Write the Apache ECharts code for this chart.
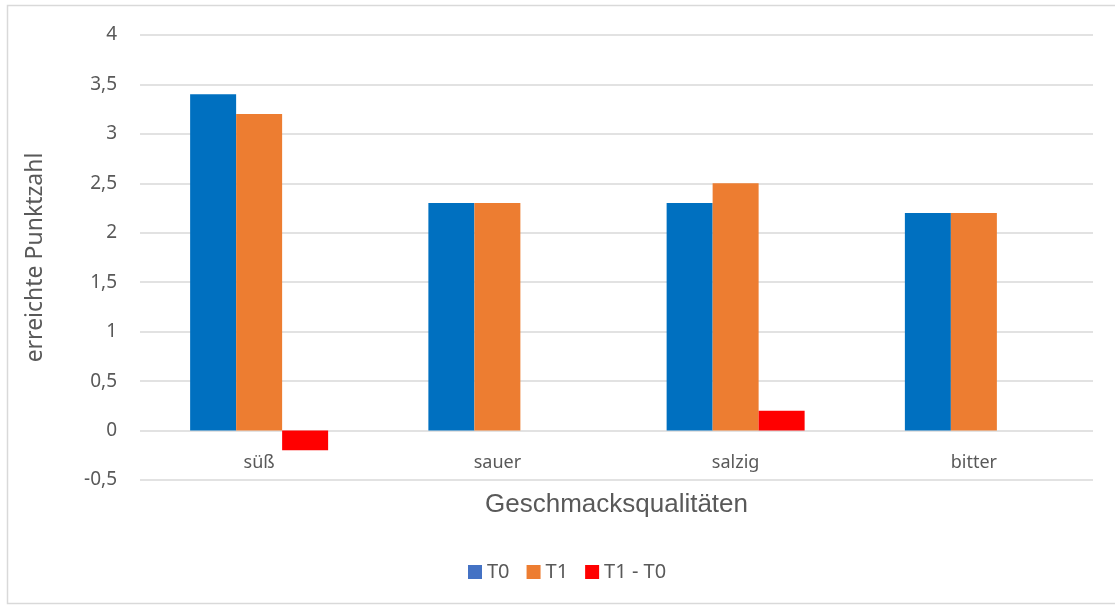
<!DOCTYPE html>
<html>
<head>
<meta charset="utf-8">
<script src="https://cdn.jsdelivr.net/npm/echarts@6/dist/echarts.min.js"></script>
<style>
  html, body { margin: 0; padding: 0; background: #fff; }
  #chart { width: 1115px; height: 606px; }
</style>
</head>
<body>
<div id="chart"></div>
<script>
// Taste qualities and scores
const categories = ['süß', 'sauer', 'salzig', 'bitter'];
const t0Values = [3.4, 2.3, 2.3, 2.2];
const t1Values = [3.2, 2.3, 2.5, 2.2];
const diffValues = [-0.2, 0, 0.2, 0];
const seriesNames = ['T0', 'T1', 'T1 - T0'];

const FONT = '"Noto Sans", sans-serif';
const TITLE_FONT = '"Liberation Sans", Arial, sans-serif';
const TEXT = '#595959';
const GRID = '#d9d9d9';

const chart = echarts.init(document.getElementById('chart'), null, { renderer: 'canvas' });

chart.setOption({
  animation: false,
  backgroundColor: '#fff',
  textStyle: { fontFamily: FONT },
  graphic: [{
    type: 'rect',
    shape: { x: 7.5, y: 5.5, width: 1110, height: 598 },
    style: { fill: 'none', stroke: GRID, lineWidth: 1.5 },
    silent: true
  }],
  grid: { left: 140, right: 22, top: 35, bottom: 126, containLabel: false },
  legend: {
    left: 468,
    top: 562,
    padding: 0,
    itemWidth: 14,
    itemHeight: 14,
    itemGap: 17,
    icon: 'rect',
    textStyle: { color: TEXT, fontSize: 20, fontFamily: FONT },
    data: [
      { name: seriesNames[0], itemStyle: { color: '#4472C4' } },
      { name: seriesNames[1], itemStyle: { color: '#ED7D31' } },
      { name: seriesNames[2], itemStyle: { color: '#FF0000' } }
    ]
  },
  xAxis: {
    type: 'category',
    data: categories,
    axisLine: { onZero: false, show: false },
    axisTick: { show: false },
    axisLabel: { color: TEXT, fontSize: 18, fontFamily: FONT, margin: -26 },
    name: 'Geschmacksqualitäten',
    nameLocation: 'middle',
    nameGap: 12,
    nameTextStyle: { color: TEXT, fontSize: 26, fontFamily: TITLE_FONT }
  },
  yAxis: {
    type: 'value',
    min: -0.5,
    max: 4,
    interval: 0.5,
    axisLine: { show: false },
    axisTick: { show: false },
    splitLine: { lineStyle: { color: GRID, width: 1.5 } },
    axisLabel: {
      color: TEXT, fontSize: 19, fontFamily: FONT, margin: 23,
      formatter: v => String(Math.round(v * 10) / 10).replace('.', ',')
    },
    name: 'erreichte Punktzahl',
    nameLocation: 'middle',
    nameGap: 93,
    nameRotate: 90,
    nameTextStyle: { color: TEXT, fontSize: 23, fontFamily: FONT }
  },
  series: [
    { name: seriesNames[0], type: 'bar', data: t0Values, barWidth: 46, barGap: '0%',
      itemStyle: { color: '#0070C0' } },
    { name: seriesNames[1], type: 'bar', data: t1Values, barWidth: 46, barGap: '0%',
      itemStyle: { color: '#ED7D31' } },
    { name: seriesNames[2], type: 'bar', data: diffValues, barWidth: 46, barGap: '0%',
      itemStyle: { color: '#FF0000' } }
  ]
});
</script>
</body>
</html>
